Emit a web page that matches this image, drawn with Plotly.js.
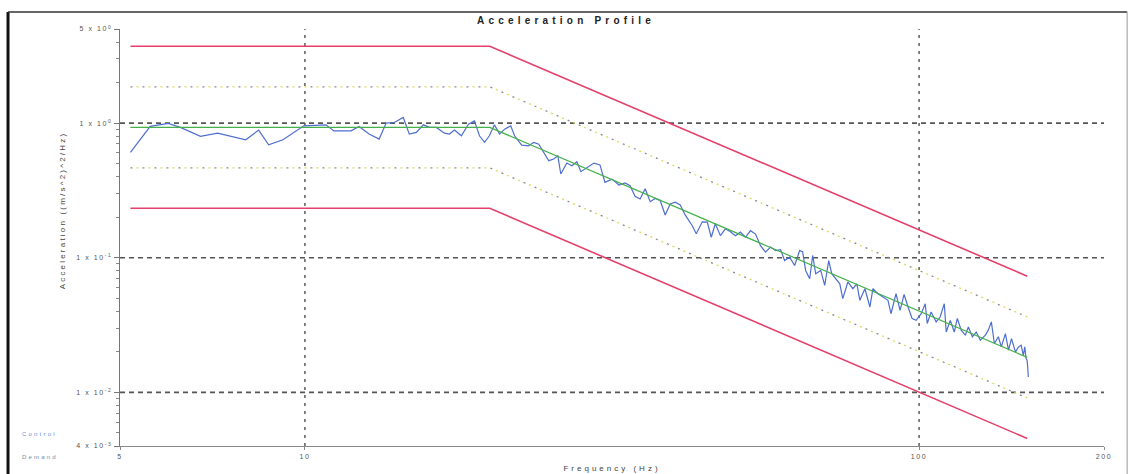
<!DOCTYPE html>
<html>
<head>
<meta charset="utf-8">
<script src="https://cdn.plot.ly/plotly-3.0.1.min.js"></script>
<style>
  html, body { margin: 0; padding: 0; background: #fff; }
  #chart { width: 1132px; height: 474px; }
  .gtitle { letter-spacing: 4.2px; }
  .g-xtitle text { letter-spacing: 3px; }
  .xtick text, .ytick text { letter-spacing: 1.6px; }
  .annotation-text { letter-spacing: 2.2px; }
</style>
</head>
<body>
<div id="chart"></div>
<script>
// ---- Data ----
const freqProfile = [5.2, 20, 150];
const demand     = [0.93, 0.93, 0.0182];
const abortHigh  = [3.72, 3.72, 0.073];
const abortLow   = [0.233, 0.233, 0.00455];
const alarmHigh  = [1.86, 1.86, 0.0364];
const alarmLow   = [0.465, 0.465, 0.0091];

const controlFreq = [
  5.20, 5.60, 5.99, 6.27, 6.76, 7.21, 8.01, 8.41, 8.73, 9.21,
  9.96, 10.82, 11.15, 11.89, 12.25, 12.72, 13.21, 13.56, 13.98, 14.46,
  14.79, 15.19, 15.59, 15.95, 16.37, 16.87, 17.19, 17.52, 17.98, 18.46,
  18.88, 19.24, 19.61, 19.97, 20.35, 20.75, 21.14, 21.63, 21.95, 22.54,
  23.14, 23.58, 24.03, 24.48, 24.95, 25.42, 25.81, 26.10, 26.70, 27.20,
  27.72, 28.14, 28.78, 29.55, 30.23, 30.80, 31.62, 32.46, 33.21, 33.84,
  34.48, 35.14, 35.81, 36.49, 37.18, 37.88, 38.60, 39.33, 40.07, 40.84,
  41.61, 42.72, 43.37, 44.36, 45.20, 45.88, 46.58, 47.47, 48.37, 49.29,
  50.23, 51.18, 52.16, 53.15, 54.16, 55.18, 56.23, 57.30, 58.39, 59.50,
  60.39, 61.54, 62.71, 63.90, 64.62, 65.35, 66.35, 67.10, 67.86, 69.15,
  70.20, 71.26, 72.07, 73.17, 74.28, 75.12, 76.56, 78.00, 79.19, 80.08,
  81.61, 83.16, 84.10, 85.70, 87.33, 88.99, 90.00, 91.71, 93.11, 94.52,
  95.95, 97.41, 98.88, 100.8, 102.3, 103.1, 104.6, 106.6, 108.2, 109.9,
  110.7, 112.4, 114.1, 115.4, 117.1, 118.9, 120.3, 122.1, 123.9, 125.8,
  128.2, 129.6, 131.1, 132.6, 134.6, 136.1, 138.2, 139.8, 141.4, 143.5,
  145.2, 146.6, 147.8, 148.6, 149.3, 149.9, 150.3, 150.6
];
const controlPSD = [
  0.607, 0.945, 0.994, 0.929, 0.797, 0.842, 0.752, 0.887, 0.691, 0.752,
  0.954, 0.971, 0.876, 0.876, 0.945, 0.829, 0.761, 1.000, 1.011, 1.101,
  0.829, 0.853, 0.971, 0.929, 0.929, 0.842, 0.829, 0.887, 0.805, 0.982,
  1.039, 0.805, 0.720, 0.805, 0.971, 0.829, 0.902, 0.954, 0.805, 0.687,
  0.679, 0.720, 0.698, 0.607, 0.526, 0.541, 0.572, 0.419, 0.505, 0.483,
  0.517, 0.436, 0.469, 0.505, 0.489, 0.363, 0.384, 0.347, 0.359, 0.343,
  0.286, 0.273, 0.325, 0.261, 0.276, 0.266, 0.208, 0.251, 0.259, 0.247,
  0.208, 0.173, 0.151, 0.185, 0.184, 0.142, 0.179, 0.146, 0.164, 0.156,
  0.146, 0.155, 0.142, 0.159, 0.150, 0.123, 0.110, 0.120, 0.113, 0.115,
  0.0954, 0.101, 0.0876, 0.113, 0.111, 0.0805, 0.0698, 0.104, 0.0761, 0.0805,
  0.0623, 0.0954, 0.0761, 0.0698, 0.0641, 0.0497, 0.0661, 0.0589, 0.0641, 0.0483,
  0.0589, 0.0431, 0.0589, 0.0541, 0.0511, 0.0483, 0.0384, 0.0541, 0.0407, 0.0534,
  0.0431, 0.0354, 0.0343, 0.0384, 0.0456, 0.0325, 0.0396, 0.0334, 0.0363, 0.0456,
  0.0281, 0.0343, 0.0281, 0.0354, 0.0290, 0.0266, 0.0306, 0.0259, 0.0281, 0.0244,
  0.0266, 0.0290, 0.0334, 0.0231, 0.0259, 0.0218, 0.0273, 0.0206, 0.0251, 0.0200,
  0.0218, 0.0224, 0.0188, 0.0218, 0.0179, 0.0173, 0.0151, 0.0130
];

const xTickVals = [5, 10, 100, 200];
const xTickText = ['5', '10', '100', '200'];
const yTickVals = [0.004, 0.01, 0.1, 1, 5];
const yTickText = ['4 x 10<sup>-3</sup>', '1 x 10<sup>-2</sup>', '1 x 10<sup>-1</sup>', '1 x 10<sup>0</sup>', '5 x 10<sup>0</sup>'];
const yMinorVals = [0.005, 0.006, 0.007, 0.008, 0.009, 0.02, 0.03, 0.04, 0.05, 0.06, 0.07, 0.08, 0.09,
                    0.2, 0.3, 0.4, 0.5, 0.6, 0.7, 0.8, 0.9, 2, 3, 4];
const gridX = [10, 100];
const gridY = [0.01, 0.1, 1];
const xRange = [5, 200];
const yRange = [0.004, 5];

// ---- Traces ----
const red = '#e5406c';
const traces = [
  {x: freqProfile, y: abortHigh, mode: 'lines', name: 'Abort high', line: {color: red, width: 1.6}},
  {x: freqProfile, y: abortLow,  mode: 'lines', name: 'Abort low',  line: {color: red, width: 1.6}},
  {x: freqProfile, y: alarmHigh, mode: 'lines', name: 'Alarm high', line: {color: '#8a8a80', width: 1.3, dash: '2px,10px'}},
  {x: freqProfile, y: alarmHigh, mode: 'lines', name: 'Alarm high', line: {color: '#e2d85a', width: 1.3, dash: '0px,6px,2px,4px'}},
  {x: freqProfile, y: alarmLow,  mode: 'lines', name: 'Alarm low',  line: {color: '#8a8a80', width: 1.3, dash: '2px,10px'}},
  {x: freqProfile, y: alarmLow,  mode: 'lines', name: 'Alarm low',  line: {color: '#e2d85a', width: 1.3, dash: '0px,6px,2px,4px'}},
  {x: controlFreq, y: controlPSD, mode: 'lines', name: 'Control', line: {color: '#4f6fcf', width: 1.2}},
  {x: freqProfile, y: demand,    mode: 'lines', name: 'Demand', line: {color: '#45b04a', width: 1.2}}
];

// ---- Gridline shapes ----
const shapes = [];
gridX.forEach(v => shapes.push({type: 'line', xref: 'x', yref: 'paper', x0: v, x1: v, y0: 0, y1: 1,
  line: {color: '#666', width: 1.6, dash: '3px,5px'}, layer: 'below'}));
gridY.forEach(v => shapes.push({type: 'line', xref: 'paper', yref: 'y', x0: 0, x1: 1, y0: v, y1: v,
  line: {color: '#555', width: 1.6, dash: '5px,4px'}, layer: 'below'}));
// outer frame
shapes.push({type: 'line', xref: 'paper', yref: 'paper', x0: -0.1138, x1: -0.1138, y0: -0.07, y1: 1.041, line: {color: '#111', width: 3}});
shapes.push({type: 'line', xref: 'paper', yref: 'paper', x0: -0.1138, x1: 1.0235, y0: 1.041, y1: 1.041, line: {color: '#333', width: 1.5}});
shapes.push({type: 'line', xref: 'paper', yref: 'paper', x0: 1.0235, x1: 1.0235, y0: -0.07, y1: 1.041, line: {color: '#999', width: 1}});

const FONT = 'Liberation Sans, Arial, sans-serif';
const tickFont = {family: FONT, size: 7, color: '#555'};

const layout = {
  width: 1132, height: 474,
  margin: {l: 120, r: 28, t: 29, b: 28, pad: 0},
  paper_bgcolor: '#fff', plot_bgcolor: '#fff',
  showlegend: false,
  title: {text: 'Acceleration Profile', x: 0.5, xref: 'container', xanchor: 'center',
          y: 0.957, yref: 'container', yanchor: 'middle',
          font: {family: FONT, size: 10, color: '#222', weight: 'bold'}},
  xaxis: {
    type: 'log', range: [Math.log10(xRange[0]), Math.log10(xRange[1])],
    tickmode: 'array', tickvals: xTickVals, ticktext: xTickText,
    showgrid: false, zeroline: false, showline: true, linecolor: '#888', linewidth: 1.2,
    ticks: 'outside', ticklen: 3, tickcolor: '#888', tickfont: tickFont,
    title: {text: 'Frequency (Hz)', standoff: 6, font: {family: FONT, size: 8, color: '#444'}},
    automargin: false
  },
  yaxis: {
    type: 'log', range: [Math.log10(yRange[0]), Math.log10(yRange[1])],
    tickmode: 'array', tickvals: yTickVals, ticktext: yTickText,
    showgrid: false, zeroline: false, showline: true, linecolor: '#777', linewidth: 1.2,
    ticks: 'outside', ticklen: 5, tickcolor: '#777', tickfont: tickFont,
    minor: {tickmode: 'array', tickvals: yMinorVals, ticks: 'outside', ticklen: 3, tickcolor: '#888', showgrid: false},
    automargin: false
  },
  shapes: shapes,
  annotations: [
    {text: 'Acceleration ((m/s^2)^2/Hz)', xref: 'paper', yref: 'paper', x: -0.059, y: 0.565,
     xanchor: 'center', yanchor: 'middle', textangle: -90, showarrow: false,
     font: {family: FONT, size: 8, color: '#444'}},
    {text: 'Control', xref: 'paper', yref: 'paper', x: -0.102, y: 0.029, xanchor: 'left', yanchor: 'middle',
     showarrow: false, font: {family: FONT, size: 6, color: '#6d8ee0'}},
    {text: 'Demand', xref: 'paper', yref: 'paper', x: -0.102, y: -0.026, xanchor: 'left', yanchor: 'middle',
     showarrow: false, font: {family: FONT, size: 6, color: '#6a8fb0'}}
  ]
};

Plotly.newPlot('chart', traces, layout, {staticPlot: true, displayModeBar: false});
</script>
</body>
</html>
